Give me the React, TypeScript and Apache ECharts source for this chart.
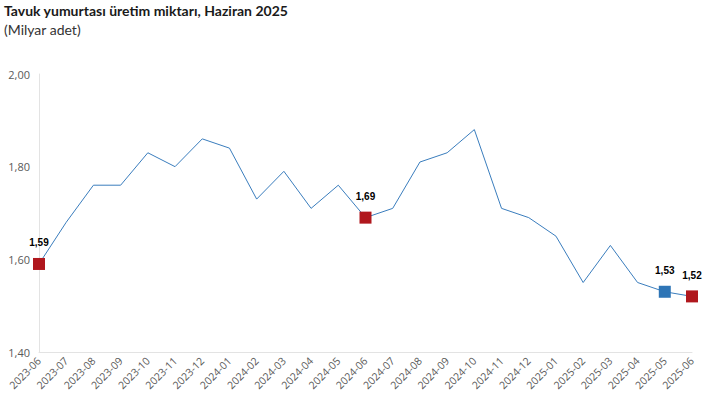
import React, { useEffect, useRef } from "react";
import * as echarts from "echarts";

const categories = [
  "2023-06", "2023-07", "2023-08", "2023-09", "2023-10", "2023-11", "2023-12",
  "2024-01", "2024-02", "2024-03", "2024-04", "2024-05", "2024-06", "2024-07",
  "2024-08", "2024-09", "2024-10", "2024-11", "2024-12", "2025-01", "2025-02",
  "2025-03", "2025-04", "2025-05", "2025-06",
];
const values = [
  1.59, 1.68, 1.76, 1.76, 1.83, 1.80, 1.86, 1.84, 1.73, 1.79, 1.71, 1.76, 1.69,
  1.71, 1.81, 1.83, 1.88, 1.71, 1.69, 1.65, 1.55, 1.63, 1.55, 1.53, 1.52,
];
const highlightRed = ["2023-06", "2024-06", "2025-06"];
const highlightBlue = ["2025-05"];

const fmt = (v: number) => v.toFixed(2).replace(".", ",");

export default function App() {
  const ref = useRef<HTMLDivElement>(null);
  useEffect(() => {
    document.body.style.margin = "0";
    if (!ref.current) return;
    const chart = echarts.init(ref.current, null, { renderer: "svg" });
    const data = values.map((v, i) => {
      const c = categories[i];
      const red = highlightRed.includes(c);
      const blue = highlightBlue.includes(c);
      if (red || blue) {
        return {
          value: v,
          symbol: "rect",
          symbolSize: 12,
          itemStyle: { color: red ? "#b0171d" : "#2e75b6" },
          label: {
            show: true,
            position: "top",
            distance: 10,
            formatter: (p: any) => fmt(p.value),
            color: "#000",
            fontSize: 10,
            fontWeight: "bold",
            fontFamily: "Liberation Sans, Arial, sans-serif",
          },
        };
      }
      return { value: v, symbol: "none" };
    });
    chart.setOption({
      animation: false,
      backgroundColor: "#fff",
      title: {
        text: "Tavuk yumurtası üretim miktarı, Haziran 2025",
        subtext: "(Milyar adet)",
        left: 4,
        top: 3,
        padding: 0,
        itemGap: 5,
        textStyle: { fontSize: 14, fontWeight: "bold", color: "#1a1a1a", fontFamily: "Lato, sans-serif" },
        subtextStyle: { fontSize: 14, color: "#333", fontFamily: "Lato, sans-serif" },
      },
      grid: { left: 39, right: 22, top: 74, bottom: 44 },
      xAxis: {
        type: "category",
        data: categories,
        boundaryGap: false,
        axisLine: { lineStyle: { color: "#e3e3e3" } },
        axisTick: { show: false },
        axisLabel: {
          rotate: 45,
          interval: 0,
          margin: 7,
          fontSize: 10.5,
          color: "#595959",
          fontFamily: "Open Sans, sans-serif",
        },
      },
      yAxis: {
        type: "value",
        min: 1.4,
        max: 2.0,
        interval: 0.2,
        axisLine: { show: true, lineStyle: { color: "#e3e3e3" } },
        axisTick: { show: false },
        splitLine: { show: false },
        axisLabel: {
          formatter: (v: number) => fmt(v),
          fontSize: 11,
          color: "#595959",
          margin: 9,
          fontFamily: "Open Sans, sans-serif",
        },
      },
      series: [
        {
          type: "line",
          data,
          symbol: "none",
          showSymbol: true,
          lineStyle: { color: "#3a7dbd", width: 1 },
          itemStyle: { color: "#3a7dbd" },
          z: 2,
        },
      ],
    });
    return () => chart.dispose();
  }, []);
  return <div ref={ref} style={{ width: 714, height: 396 }} />;
}
